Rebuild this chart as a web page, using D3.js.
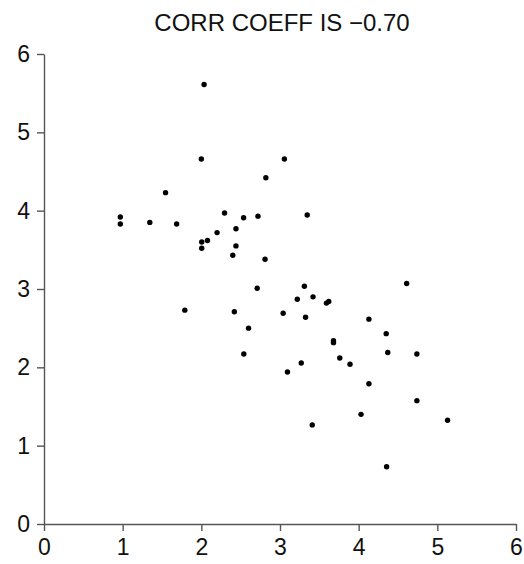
<!DOCTYPE html>
<html>
<head>
<meta charset="utf-8">
<script src="https://cdn.jsdelivr.net/npm/d3@7"></script>
<style>
  body { margin: 0; background: #fff; }
  svg text { font-family: "Liberation Sans", Arial, sans-serif; fill: #111; }
</style>
</head>
<body>
<svg id="chart" width="524" height="564"></svg>
<script>
// values
const xValues = [2.035, 2.00, 1.545, 0.97, 0.97, 1.345, 1.686, 2.295, 2.537, 2.72,
  2.44, 2.20, 2.005, 2.078, 2.005, 2.44, 2.40, 3.056, 2.82, 3.346,
  2.81, 2.71, 3.31, 3.42, 3.22, 3.59, 3.62, 1.79, 2.42, 3.04,
  3.325, 2.60, 3.68, 3.68, 3.76, 2.54, 3.27, 3.095, 3.41, 4.61,
  4.13, 4.35, 3.89, 4.37, 4.74, 4.13, 4.74, 4.03, 5.13, 4.355];
const yValues = [5.61, 4.66, 4.23, 3.92, 3.83, 3.85, 3.83, 3.97, 3.91, 3.93,
  3.77, 3.72, 3.60, 3.62, 3.52, 3.55, 3.43, 4.66, 4.42, 3.945,
  3.38, 3.01, 3.035, 2.90, 2.87, 2.82, 2.84, 2.73, 2.71, 2.69,
  2.64, 2.50, 2.34, 2.315, 2.12, 2.17, 2.055, 1.94, 1.265, 3.07,
  2.615, 2.43, 2.04, 2.19, 2.17, 1.79, 1.575, 1.40, 1.325, 0.73];
const xTicks = [0, 1, 2, 3, 4, 5, 6];
const yTicks = [0, 1, 2, 3, 4, 5, 6];
const title = 'CORR COEFF IS \u22120.70';

const points = xValues.map((x, i) => ({ x: x, y: yValues[i] }));

const svg = d3.select('#chart');

const x = d3.scaleLinear().domain([0, 6]).range([44, 516]);
const y = d3.scaleLinear().domain([0, 6]).range([524, 54]);

// title
svg.append('text')
  .attr('x', 282)
  .attr('y', 31)
  .attr('text-anchor', 'middle')
  .style('font-size', '24px')
  .text(title);

// axes
const xAxis = svg.append('g')
  .attr('transform', `translate(0,${y(0)})`)
  .call(d3.axisBottom(x).tickValues(xTicks).tickFormat(d3.format('d')).tickSize(7).tickSizeOuter(0).tickPadding(8));

const yAxis = svg.append('g')
  .attr('transform', `translate(${x(0)},0)`)
  .call(d3.axisLeft(y).tickValues(yTicks).tickFormat(d3.format('d')).tickSize(7).tickSizeOuter(0).tickPadding(7));

[xAxis, yAxis].forEach(g => {
  g.select('.domain').attr('stroke', '#555').attr('stroke-width', 1.4);
  g.selectAll('.tick line').attr('stroke', '#555').attr('stroke-width', 1.4);
  g.selectAll('.tick text')
    .style('font-size', '23px')
    .style('font-family', '"Liberation Sans", Arial, sans-serif')
    .attr('fill', '#111');
});

// dots
svg.append('g')
  .selectAll('circle')
  .data(points)
  .join('circle')
  .attr('cx', d => x(d.x))
  .attr('cy', d => y(d.y))
  .attr('r', 2.7)
  .attr('fill', '#000');
</script>
</body>
</html>
